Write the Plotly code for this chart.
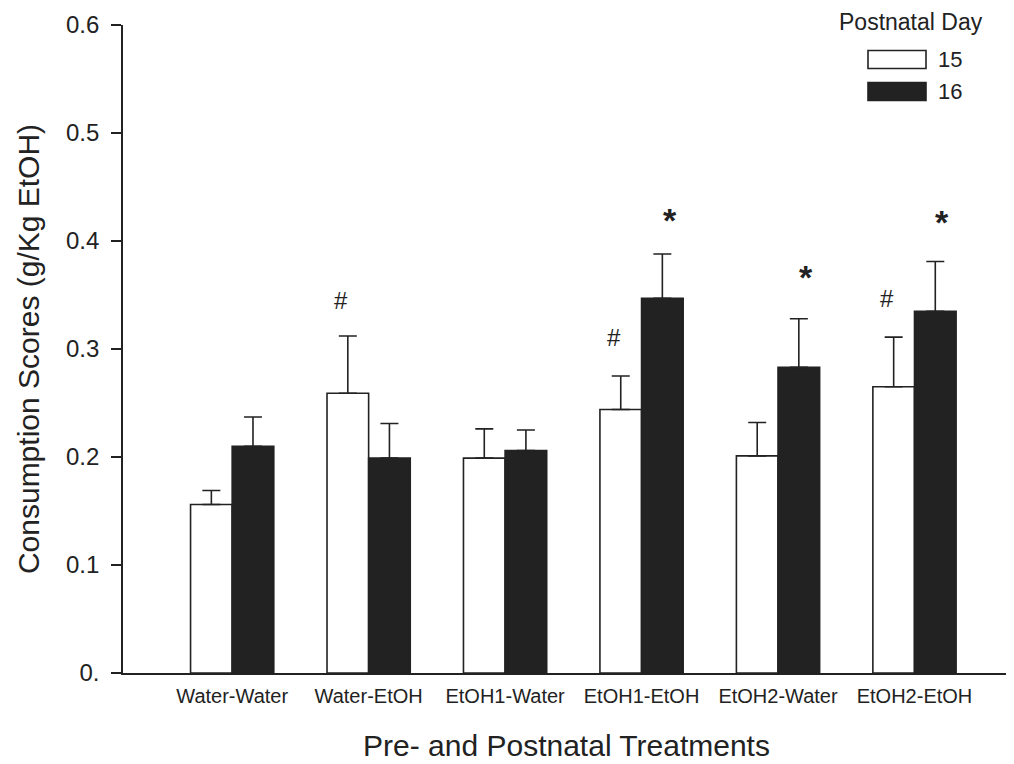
import plotly.graph_objects as go

categories = ["Water-Water", "Water-EtOH", "EtOH1-Water", "EtOH1-EtOH", "EtOH2-Water", "EtOH2-EtOH"]
day15_mean = [0.156, 0.259, 0.199, 0.244, 0.201, 0.265]
day15_sem = [0.013, 0.053, 0.027, 0.031, 0.031, 0.046]
day16_mean = [0.210, 0.199, 0.206, 0.347, 0.283, 0.335]
day16_sem = [0.027, 0.032, 0.019, 0.041, 0.045, 0.046]
hash_cats = ["Water-EtOH", "EtOH1-EtOH", "EtOH2-EtOH"]
hash_y = [0.346, 0.312, 0.348]
star_cats = ["EtOH1-EtOH", "EtOH2-Water", "EtOH2-EtOH"]
star_y = [0.424, 0.371, 0.422]
ytick_vals = [0, 0.1, 0.2, 0.3, 0.4, 0.5, 0.6]
ytick_text = ["0.", "0.1", "0.2", "0.3", "0.4", "0.5", "0.6"]

INK = "#222222"
SANS = "Liberation Sans, Arial, Helvetica, sans-serif"

# figure is offset by the page's 8px body margin, so size is reduced accordingly
W, H = 1006, 756
L, R, T, B = 115, 4, 17, 91

fig = go.Figure()
fig.add_trace(go.Bar(
    x=categories, y=day15_mean, name="15",
    marker=dict(color="white", line=dict(color=INK, width=1.6)),
    error_y=dict(type="data", symmetric=False, array=day15_sem,
                 arrayminus=[0] * len(day15_sem), color=INK, thickness=1.6, width=9),
    showlegend=False,
))
fig.add_trace(go.Bar(
    x=categories, y=day16_mean, name="16",
    marker=dict(color=INK, line=dict(color=INK, width=1.6)),
    error_y=dict(type="data", symmetric=False, array=day16_sem,
                 arrayminus=[0] * len(day16_sem), color=INK, thickness=1.6, width=9),
    showlegend=False,
))

annotations = []
for c, yv in zip(hash_cats, hash_y):
    i = categories.index(c)
    annotations.append(dict(x=i - 0.205, y=yv, xref="x", yref="y", text="#",
                            showarrow=False, xanchor="center", yanchor="middle", yshift=-1,
                            font=dict(family=SANS, size=24, color=INK)))
for c, yv in zip(star_cats, star_y):
    i = categories.index(c)
    annotations.append(dict(x=i + 0.205, y=yv, xref="x", yref="y", text="<b>*</b>",
                            showarrow=False, xanchor="center", yanchor="middle", yshift=-5,
                            font=dict(family=SANS, size=34, color=INK)))

pw, ph = W - L - R, H - T - B
def px(x):
    return (x - L) / pw
def py(y):
    return 1 - (y - T) / ph

# legend drawn manually (positions in figure pixels)
annotations.append(dict(x=px(903), y=py(14), xref="paper", yref="paper", text="Postnatal Day",
                        showarrow=False, xanchor="center", yanchor="middle",
                        font=dict(family=SANS, size=23, color=INK)))
shapes = []
legend_items = [("15", "white", 51.5), ("16", INK, 83.5)]
for label, fill, cy in legend_items:
    shapes.append(dict(type="rect", xref="paper", yref="paper",
                       x0=px(860), x1=px(918), y0=py(cy - 9), y1=py(cy + 9),
                       fillcolor=fill, line=dict(color=INK, width=1.6)))
    annotations.append(dict(x=px(928), y=py(cy), xref="paper", yref="paper", text=label,
                            showarrow=False, xanchor="left", yanchor="middle",
                            font=dict(family=SANS, size=22, color=INK)))

fig.update_layout(
    width=W, height=H,
    margin=dict(l=L, r=R, t=T, b=B),
    paper_bgcolor="white", plot_bgcolor="white",
    barmode="group", bargap=0.39, bargroupgap=0,
    xaxis=dict(
        range=[-0.8, 5.7], showline=True, linecolor=INK, linewidth=1.6,
        ticks="", showgrid=False, zeroline=False, ticklabelstandoff=4,
        tickfont=dict(family=SANS, size=20, color=INK),
        title=dict(text="Pre- and Postnatal Treatments",
                   font=dict(family=SANS, size=30, color=INK), standoff=29),
    ),
    yaxis=dict(
        range=[0, 0.6], showline=True, linecolor=INK, linewidth=1.6,
        ticks="outside", ticklen=10, tickwidth=1.6, tickcolor=INK,
        tickvals=ytick_vals, ticktext=ytick_text, ticklabelstandoff=7,
        showgrid=False, zeroline=False,
        tickfont=dict(family=SANS, size=24, color=INK),
        title=dict(text="Consumption Scores (g/Kg EtOH)",
                   font=dict(family=SANS, size=30, color=INK), standoff=18),
    ),
    annotations=annotations, shapes=shapes,
)

fig.write_html("out.html")
